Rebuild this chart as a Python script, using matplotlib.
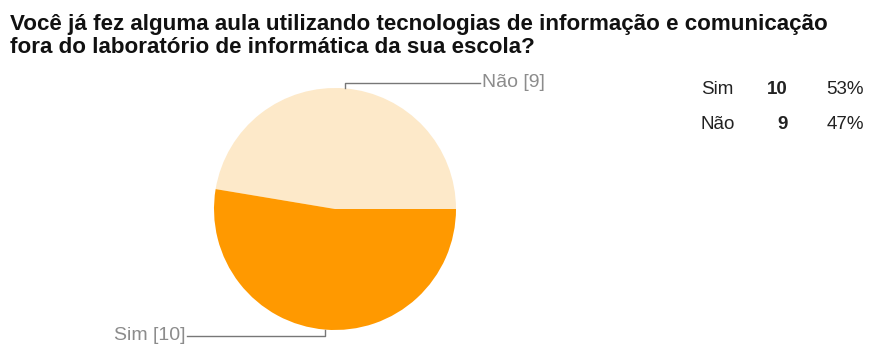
import matplotlib.pyplot as plt
import numpy as np

# Survey answers
labels = ["Não", "Sim"]
counts = [9, 10]
colors = ["#FDE9C9", "#FF9900"]
table_rows = ["Sim", "Não"]
table_counts = [10, 9]

title_lines = ["Você já fez alguma aula utilizando tecnologias de informação e comunicação",
               "fora do laboratório de informática da sua escola?"]

W, H = 876, 345
fig = plt.figure(figsize=(W / 100, H / 100), dpi=100)
plt.rcParams['font.family'] = ['Liberation Sans', 'DejaVu Sans']

def fx(px):
    return px / W

def fy(py):
    return 1 - py / H

# Title
fig.text(fx(10), fy(30), title_lines[0], fontsize=16.1, fontweight="bold",
         color="#111111", va="baseline")
fig.text(fx(10), fy(53), title_lines[1], fontsize=16.1, fontweight="bold",
         color="#111111", va="baseline")

# Pie
cx, cy, r = 335, 209, 121
ax = fig.add_axes([fx(cx - r), fy(cy + r), 2 * r / W, 2 * r / H])
wedges, _ = ax.pie(counts, colors=colors, startangle=0, counterclock=True,
                   wedgeprops=dict(linewidth=0))
ax.set_xlim(-1, 1)
ax.set_ylim(-1, 1)
ax.set_aspect("equal")
ax.axis("off")

lead = "#777777"
for w, lab, n in zip(wedges, labels, counts):
    mid = np.deg2rad((w.theta1 + w.theta2) / 2)
    x0, y0 = np.cos(mid), np.sin(mid)
    if y0 > 0:
        y1 = y0 + 0.045
        x1 = (480 - cx) / r
        ha, tx = "left", x1 + 0.015
    else:
        y1 = y0 - 0.05
        x1 = (187 - cx) / r
        ha, tx = "right", x1 - 0.015
    ax.plot([x0, x0, x1], [y0, y1, y1], color=lead, lw=1, clip_on=False)
    ax.text(tx, y1, f"{lab} [{n}]", ha=ha, va="center", fontsize=14,
            color="#8c8c8c", clip_on=False)

# Summary table
total = sum(counts)
for i, (name, n) in enumerate(zip(table_rows, table_counts)):
    yb = 94 + i * 35
    fig.text(fx(701), fy(yb), name, fontsize=13.5, color="#222222", va="baseline")
    fig.text(fx(788), fy(yb), str(n), fontsize=13.5, fontweight="bold",
             color="#222222", va="baseline", ha="right")
    fig.text(fx(864), fy(yb), f"{round(100 * n / total)}%", fontsize=13.5,
             color="#222222", va="baseline", ha="right")

fig.savefig("out.png", dpi=100)
